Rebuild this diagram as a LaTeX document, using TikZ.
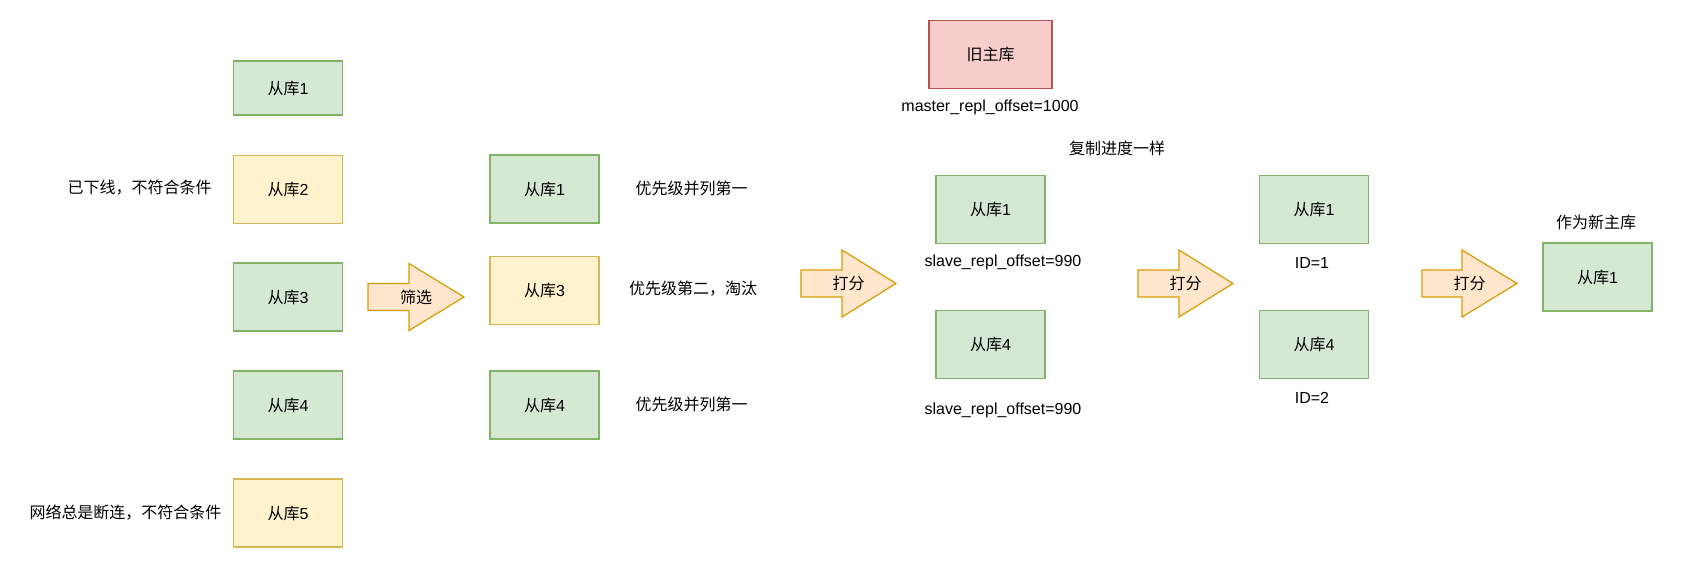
\documentclass[tikz,border=0pt]{standalone}
\usepackage{fontspec}
\setmainfont{Liberation Sans}
\newfontfamily\cjk{Noto Sans CJK SC}

\definecolor{greenfill}{HTML}{D5E8D4}
\definecolor{greenline}{HTML}{82B366}
\definecolor{yellowfill}{HTML}{FFF2CC}
\definecolor{yellowline}{HTML}{D6B656}
\definecolor{redfill}{HTML}{F8CECC}
\definecolor{redline}{HTML}{B85450}
\definecolor{arrowfill}{HTML}{FFE6CC}
\definecolor{arrowline}{HTML}{D79B00}

\begin{document}
\begin{tikzpicture}[x=1pt,y=-1pt,
	font=\fontsize{16pt}{19pt}\selectfont,
	box/.style={line width=1.2pt, inner sep=0pt, minimum width=109pt, minimum height=68pt},
	greenbox/.style={box, fill=greenfill, draw=greenline},
	yellowbox/.style={box, fill=yellowfill, draw=yellowline},
	redbox/.style={box, fill=redfill, draw=redline},
	arrowshape/.style={fill=arrowfill, draw=arrowline, line width=1.2pt, line join=miter},
	note/.style={inner sep=0pt}
	]
	
	\useasboundingbox (0,0) rectangle (1690,561);
	
	% Column 1: all slaves
	\node[greenbox, minimum height=54pt] (a1) at (288,88) {{\cjk 从库}1};
	\node[yellowbox] (a2) at (288,189.5) {{\cjk 从库}2};
	\node[greenbox] (a3) at (288,297) {{\cjk 从库}3};
	\node[greenbox] (a4) at (288,405) {{\cjk 从库}4};
	\node[yellowbox] (a5) at (288,513) {{\cjk 从库}5};
	\node[note] (a2note) at (139.5,188) {\cjk 已下线，不符合条件};
	\node[note] (a5note) at (125.5,513) {\cjk 网络总是断连，不符合条件};
	
	% Column 2: after filtering
	\node[greenbox] (b1) at (544.5,189) {{\cjk 从库}1};
	\node[yellowbox] (b3) at (544.5,290.5) {{\cjk 从库}3};
	\node[greenbox] (b4) at (544.5,405) {{\cjk 从库}4};
	\node[note] (b1note) at (691.5,188) {\cjk 优先级并列第一};
	\node[note] (b3note) at (693,289) {\cjk 优先级第二，淘汰};
	\node[note] (b4note) at (691.5,404) {\cjk 优先级并列第一};
	
	% Column 3: replication offset
	\node[redbox, minimum width=123pt] (old) at (990.5,54.5) {\cjk 旧主库};
	\node[note] (oldnote) at (990,107) {master\_repl\_offset=1000};
	\node[note] (same) at (1117,148) {\cjk 复制进度一样};
	\node[greenbox] (c1) at (990.5,209.5) {{\cjk 从库}1};
	\node[note] (c1note) at (1003,262) {slave\_repl\_offset=990};
	\node[greenbox] (c4) at (990.5,344.5) {{\cjk 从库}4};
	\node[note] (c4note) at (1003,410) {slave\_repl\_offset=990};
	
	% Column 4: slave ID
	\node[greenbox] (d1) at (1314,209.5) {{\cjk 从库}1};
	\node[note] (d1note) at (1312,263) {ID=1};
	\node[greenbox] (d4) at (1314,344.5) {{\cjk 从库}4};
	\node[note] (d4note) at (1312,398) {ID=2};
	
	% New master
	\node[greenbox] (new) at (1597.5,277) {{\cjk 从库}1};
	\node[note] (newnote) at (1596,222) {\cjk 作为新主库};
	
	% Block arrows: tail x, centre y, neck x, tip x
	\foreach \name/\x/\y/\neck/\tip/\txt in {
		step1/368/297/409/464/筛选,
		step2/801/283.5/842/896/打分,
		step3/1138/283.5/1179/1233/打分,
		step4/1422/283.5/1462/1517/打分} {
		\draw[arrowshape] (\x,\y-13.5) -- (\neck,\y-13.5) -- (\neck,\y-33.5) -- (\tip,\y)
		-- (\neck,\y+33.5) -- (\neck,\y+13.5) -- (\x,\y+13.5) -- cycle;
		\node[note] (\name) at ({(\x+\tip)/2},\y) {\cjk \txt};
	}
	
\end{tikzpicture}
\end{document}
